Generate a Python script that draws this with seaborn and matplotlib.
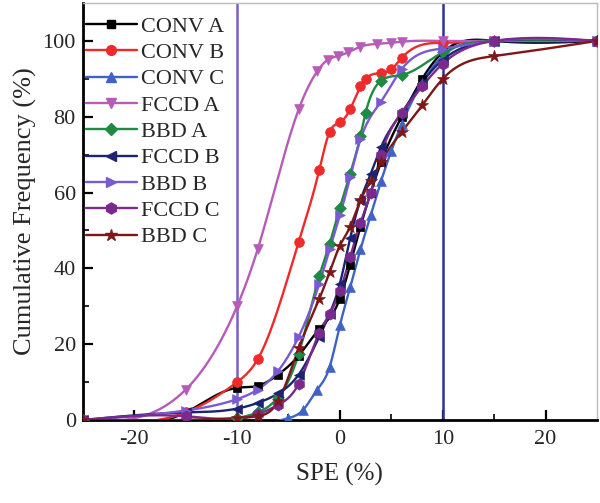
import numpy as np
import pandas as pd
import matplotlib
matplotlib.use("Agg")
import matplotlib.pyplot as plt
from matplotlib.lines import Line2D
import seaborn as sns

# ---- data ----
conv_a_x = [-25, -15, -10, -8, -6, -4, -2, 0, 1, 2, 3, 4, 6, 8, 10, 15, 25]
conv_a_y = [0, 2, 8.5, 9, 12, 17, 24, 32, 41, 51, 60, 68, 80, 90, 97, 100, 100]

conv_b_x = [-25, -15, -10, -8, -4, -2, -1, 0, 1, 2, 2.5, 4, 5, 6, 10, 15, 25]
conv_b_y = [0, 2, 10, 16, 47, 66, 76, 78.5, 82, 88, 90, 91.5, 92.5, 95.5, 99.5, 100, 100]

conv_c_x = [-25, -5, -3.6, -2.2, -1, 0, 1, 2, 3, 4, 5, 6, 8, 10, 15, 25]
conv_c_y = [0, 0.5, 2.6, 8, 14, 25, 35, 45, 54, 63, 71, 78, 89, 96, 100, 100]

fccd_a_x = [-25, -15, -10, -8, -4, -2.2, -1.2, -0.2, 0.8, 2, 3.6, 5, 6, 10, 15, 25]
fccd_a_y = [0, 8, 30, 45, 82, 92, 95, 96, 97, 98.5, 99.2, 99.5, 99.8, 100, 100, 100]

bbd_a_x = [-25, -10, -8, -6, -4, -2, -1, 0, 1, 2, 2.5, 4, 6, 10, 15, 25]
bbd_a_y = [0, 0.5, 2, 6, 17.5, 38, 46.5, 56, 65, 75, 81, 89.5, 91, 97, 100, 100]

fccd_b_x = [-25, -15, -10, -8, -6, -4, -2, -1, 0, 1, 2, 3, 4, 6, 8, 10, 15, 25]
fccd_b_y = [0, 2, 3, 4.5, 7, 12, 22, 28, 36, 48, 58, 65, 72, 81, 89, 95, 100, 100]

bbd_b_x = [-25, -15, -10, -8, -6, -4, -2, -1, 0, 1, 2, 4, 6, 10, 15, 25]
bbd_b_y = [0, 2.5, 5.5, 8, 13, 22, 36, 45, 54, 64, 74, 84, 92.5, 98, 100, 100]

fccd_c_x = [-25, -15, -8, -6, -4, -2, -1, 0, 1, 2, 3, 4, 6, 8, 10, 15, 25]
fccd_c_y = [0, 1, 1.5, 4, 9.6, 23, 28, 34, 43, 52, 60, 70, 81, 88, 94, 100, 100]

bbd_c_x = [-25, -10, -8, -6, -4, -2, -1, 0, 1, 2, 3, 4, 6, 8, 10, 15, 25]
bbd_c_y = [0, 0.5, 1, 5, 19, 32, 39, 46, 51, 58, 63, 68, 76, 83, 90, 96, 100]

names = ["CONV A", "CONV B", "CONV C", "FCCD A", "BBD A",
         "FCCD B", "BBD B", "FCCD C", "BBD C"]
xs = [conv_a_x, conv_b_x, conv_c_x, fccd_a_x, bbd_a_x,
      fccd_b_x, bbd_b_x, fccd_c_x, bbd_c_x]
ys = [conv_a_y, conv_b_y, conv_c_y, fccd_a_y, bbd_a_y,
      fccd_b_y, bbd_b_y, fccd_c_y, bbd_c_y]
colors = ["#000000", "#ee2a2a", "#3f63c4", "#b65cb8", "#1e8a44",
          "#1c2370", "#7a5ad0", "#7a2a8c", "#7c1818"]
markers = ["s", "o", "^", "v", "D", "<", ">", "h", "*"]
msizes = [6, 7, 7, 7, 6, 7, 7, 8, 9]

ref_lines_x = [-10, 10]
ref_lines_c = ["#7b5fc4", "#2b3397"]


def natural_spline(x, y, n=400):
    x = np.asarray(x, float)
    y = np.asarray(y, float)
    m = len(x)
    h = np.diff(x)
    A = np.zeros((m, m))
    b = np.zeros(m)
    A[0, 0] = 1
    A[-1, -1] = 1
    for i in range(1, m - 1):
        A[i, i - 1] = h[i - 1]
        A[i, i] = 2 * (h[i - 1] + h[i])
        A[i, i + 1] = h[i]
        b[i] = 3 * ((y[i + 1] - y[i]) / h[i] - (y[i] - y[i - 1]) / h[i - 1])
    c = np.linalg.solve(A, b)
    bb = (y[1:] - y[:-1]) / h - h * (2 * c[:-1] + c[1:]) / 3
    d = (c[1:] - c[:-1]) / (3 * h)
    xx = np.linspace(x[0], x[-1], n)
    idx = np.clip(np.searchsorted(x, xx) - 1, 0, m - 2)
    t = xx - x[idx]
    yy = y[idx] + bb[idx] * t + c[idx] * t ** 2 + d[idx] * t ** 3
    return xx, yy


sns.set_style("ticks")
plt.rcParams["font.family"] = ["Liberation Serif", "DejaVu Serif"]
plt.rcParams["axes.unicode_minus"] = False

fig = plt.figure(figsize=(6.0, 5.03), dpi=100)
ax = fig.add_axes([0.138, 0.165, 0.857, 0.829])

for xv, c in zip(ref_lines_x, ref_lines_c):
    ax.axvline(xv, color=c, lw=1.8, zorder=1)

handles = []
for nm, x, y, c, mk, ms in zip(names, xs, ys, colors, markers, msizes):
    sx, sy = natural_spline(x, y)
    df = pd.DataFrame({"x": sx, "y": sy})
    sns.lineplot(data=df, x="x", y="y", color=c, lw=1.7, sort=False,
                 estimator=None, ax=ax, zorder=3)
    dm = pd.DataFrame({"x": x, "y": y})
    sns.scatterplot(data=dm, x="x", y="y", color=c, marker=mk,
                    s=ms ** 2, edgecolor=c, linewidth=0.5, ax=ax, zorder=4,
                    legend=False)
    handles.append(Line2D([0], [0], color=c, lw=1.7, marker=mk,
                          markersize=ms, markeredgecolor=c))

ax.set_xlim(-25, 25)
ax.set_ylim(0, 110)
ax.set_xticks([-20, -10, 0, 10, 20])
ax.set_xticks([-15, -5, 5, 15], minor=True)
ax.set_yticks([0, 20, 40, 60, 80, 100])
ax.set_yticks([10, 30, 50, 70, 90], minor=True)
ax.tick_params(axis="both", which="major", direction="in", length=7,
               width=1.6, labelsize=16, color="black", top=False, right=False)
ax.tick_params(axis="both", which="minor", direction="in", length=4,
               width=1.4, top=False, right=False)
ax.tick_params(axis="x", pad=7)
ax.tick_params(axis="y", pad=5)
for s in ["left", "bottom"]:
    ax.spines[s].set_color("black")
    ax.spines[s].set_linewidth(2)
for s in ["top", "right"]:
    ax.spines[s].set_color("#bbbbbb")
    ax.spines[s].set_linewidth(1)

ax.set_xlabel("SPE (%)", fontsize=18, labelpad=10)
ax.set_ylabel("Cumulative Frequency (%)", fontsize=19, labelpad=4)

leg = ax.legend(handles, names, loc="upper left", frameon=False,
                fontsize=16, handlelength=2.3, handletextpad=0.2,
                labelspacing=0.26, borderaxespad=0.0,
                bbox_to_anchor=(-0.012, 0.99))

fig.savefig("out.png", dpi=100)
